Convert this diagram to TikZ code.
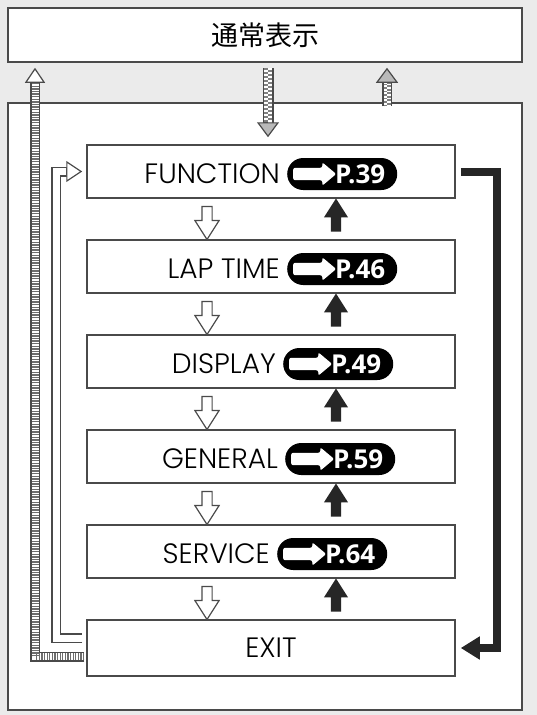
\documentclass[tikz,border=0pt]{standalone}
\usepackage{fontspec}
\setmainfont{Poppins Light}
\newfontfamily\pagefont{Open Sans}
\newfontfamily\jpfont{Noto Sans CJK JP}
\usepackage{tikz}
\usetikzlibrary{shapes.arrows,arrows.meta,calc}
\definecolor{bgcol}{HTML}{EBEBEB}
\definecolor{edgecol}{HTML}{4A4A4A}
\tikzset{
  menubox/.style={draw=edgecol, line width=1.5pt, fill=white, minimum width=368pt, minimum height=53pt, inner sep=0pt},
  menutext/.style={font=\fontsize{28}{32}\selectfont, inner sep=0pt, anchor=east},
  pagepill/.style={fill=black, text=white, rounded corners=16pt, minimum height=32pt, inner xsep=12pt, inner ysep=0pt, anchor=west, font=\pagefont\bfseries\fontsize{26}{30}\selectfont},
  pillarrow/.style={single arrow, fill=white, minimum width=23pt, minimum height=43pt, single arrow head extend=5.5pt, single arrow tip angle=80, inner sep=6pt, rounded corners=2pt},
  downarrow/.style={single arrow, draw=edgecol, fill=white, line width=1.2pt, shape border rotate=270, minimum width=23pt, minimum height=33pt, single arrow head extend=7pt, single arrow tip angle=65, inner sep=4.5pt},
  uparrow/.style={downarrow, draw=none, fill=black!85, shape border rotate=90},
  blackline/.style={line width=8pt, black!85, -{Triangle[length=19pt, width=22pt]}},
  checkhead/.style={-{Triangle[length=15pt, width=22pt, fill=gray!55, line width=1.2pt]}},
}
\begin{document}
\begin{tikzpicture}[x=1pt, y=-1pt]
   \fill[bgcol] (0,0) rectangle (537,715);
   \node[draw=edgecol, line width=1.5pt, fill=white, minimum width=514pt, minimum height=607pt] (menu) at (265,406.5) {};
   \node[draw=edgecol, line width=1.5pt, fill=white, minimum width=514pt, minimum height=54pt, font=\jpfont\fontsize{27}{30}\selectfont] (normal) at (265,35) {通常表示};
   \foreach \nm/\txt/\pg/\y/\px in {fn/FUNCTION/39/171.5/287, lt/LAP TIME/46/266.5/287, dp/DISPLAY/49/361.5/283, gn/GENERAL/59/456.5/285, sv/SERVICE/64/551.5/277}{
      \node[menubox] (\nm) at (271,\y) {};
      \node[pagepill] (\nm-p) at (\px,\y+2.5) {\hspace*{36pt}P.\pg};
      \node[pillarrow] (\nm-a) at ([xshift=24pt]\nm-p.west) {};
      \node[menutext] (\nm-t) at ([xshift=-7pt]\nm-p.west) {\txt};
   }
   \node[menubox, minimum height=56pt, font=\fontsize{28}{32}\selectfont] (ex) at (271,648) {EXIT};
   \coordinate (dx) at (207,0);
   \coordinate (ux) at (336,0);
   \foreach \a/\b in {fn/lt, lt/dp, dp/gn, gn/sv, sv/ex}{
      \path (\a.south -| dx) -- (\b.north -| dx) node[midway, downarrow] (\a-dn) {};
      \path (\a.south -| ux) -- (\b.north -| ux) node[midway, uparrow] (\a-up) {};
   }
   \draw[blackline] ([xshift=5pt]fn.east) -- ++(36,0) |- ([xshift=5pt]ex.east);
   \coordinate (hx) at (35,0);
   \draw[line width=10pt, edgecol, -{Triangle[length=15pt, width=20pt, fill=white, line width=1.2pt]}, shorten >=5pt, shorten <=2pt] ([yshift=-8.5pt]ex.west) -| (normal.south -| hx);
   \draw[line width=7pt, white, shorten >=20pt, shorten <=2pt] ([yshift=-8.5pt]ex.west) -| (normal.south -| hx);
   \draw[line width=7pt, edgecol!80, dash pattern=on 1.3pt off 1.3pt, shorten >=20pt, shorten <=2pt] ([yshift=-8.5pt]ex.west) -| (normal.south -| hx);
   \draw[line width=10pt, edgecol, -{Triangle[length=16pt, width=21pt, fill=white, line width=1.2pt]}, shorten >=4pt, shorten <=4pt] ([yshift=10pt]ex.west) -- ++(-30,0) |- (fn.west);
   \draw[line width=7pt, white, shorten >=20pt, shorten <=4pt] ([yshift=10pt]ex.west) -- ++(-30,0) |- (fn.west);
   \coordinate (mx) at (268,0);
   \coordinate (sx) at (387,0);
   \draw[line width=11pt, edgecol, checkhead, shorten <=5pt, shorten >=7pt] (normal.south -| mx) -- (fn.north -| mx);
   \draw[line width=8pt, white, shorten <=5pt, shorten >=22pt] (normal.south -| mx) -- (fn.north -| mx);
   \draw[line width=4pt, gray, dash pattern=on 2pt off 2pt, shorten <=5pt, shorten >=22pt, transform canvas={xshift=-2pt}] (normal.south -| mx) -- (fn.north -| mx);
   \draw[line width=4pt, gray, dash pattern=on 2pt off 2pt, dash phase=2pt, shorten <=5pt, shorten >=22pt, transform canvas={xshift=2pt}] (normal.south -| mx) -- (fn.north -| mx);
   \draw[line width=10pt, edgecol, checkhead, shorten <=-4pt, shorten >=5pt] (menu.north -| sx) -- (normal.south -| sx);
   \draw[line width=7pt, white, shorten <=-4pt, shorten >=20pt] (menu.north -| sx) -- (normal.south -| sx);
   \draw[line width=3.5pt, gray, dash pattern=on 1.75pt off 1.75pt, shorten <=-4pt, shorten >=20pt, transform canvas={xshift=-1.75pt}] (menu.north -| sx) -- (normal.south -| sx);
   \draw[line width=3.5pt, gray, dash pattern=on 1.75pt off 1.75pt, dash phase=1.75pt, shorten <=-4pt, shorten >=20pt, transform canvas={xshift=1.75pt}] (menu.north -| sx) -- (normal.south -| sx);
\end{tikzpicture}
\end{document}
